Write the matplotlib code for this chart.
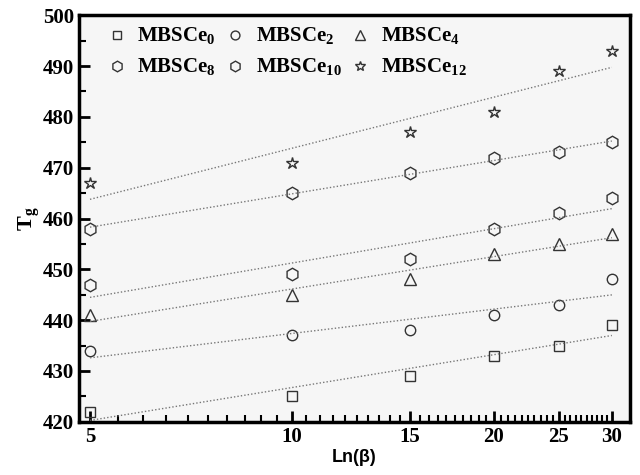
import matplotlib
matplotlib.use("Agg")
import matplotlib.pyplot as plt
import numpy as np
from matplotlib.ticker import FixedLocator, NullFormatter

beta = [5, 10, 15, 20, 25, 30]
tg_ce0 = [422, 425, 429, 433, 435, 439]
tg_ce2 = [434, 437, 438, 441, 443, 448]
tg_ce4 = [441, 445, 448, 453, 455, 457]
tg_ce8 = [447, 449, 452, 458, 461, 464]
tg_ce10 = [458, 465, 469, 472, 473, 475]
tg_ce12 = [467, 471, 477, 481, 489, 493]

series = [
    (r"MBSCe$_\mathbf{0}$", tg_ce0, "s", 7),
    (r"MBSCe$_\mathbf{2}$", tg_ce2, "o", 7.5),
    (r"MBSCe$_\mathbf{4}$", tg_ce4, "^", 8),
    (r"MBSCe$_\mathbf{8}$", tg_ce8, "h", 9),
    (r"MBSCe$_\mathbf{10}$", tg_ce10, "h", 9),
    (r"MBSCe$_\mathbf{12}$", tg_ce12, "*", 9),
]

plt.rcParams["font.family"] = ["Liberation Serif", "DejaVu Serif"]
plt.rcParams["mathtext.fontset"] = "custom"
plt.rcParams["mathtext.bf"] = "Liberation Serif:bold"
plt.rcParams["mathtext.rm"] = "Liberation Serif:bold"

fig = plt.figure(figsize=(6.4, 4.75), dpi=100)
ax = fig.add_axes([0.123, 0.112, 0.861, 0.856])
ax.set_facecolor("#f6f6f6")

x = np.array(beta, dtype=float)
handles = []
for label, y, m, ms in series:
    h, = ax.plot(x, y, linestyle="none", marker=m, markersize=ms,
                 markerfacecolor="none", markeredgecolor="#333333",
                 markeredgewidth=1.0, label=label)
    handles.append(h)
    coef = np.polyfit(np.log(x), y, 1)
    ax.plot(x, np.polyval(coef, np.log(x)), linestyle=(0, (1, 1.5)),
            color="#777777", linewidth=1.0)

ax.set_xscale("log")
ax.set_xlim(4.81, 31.9)
ax.set_ylim(420, 500)
ax.xaxis.set_major_locator(FixedLocator(beta))
ax.set_xticklabels([str(b) for b in beta])
ax.xaxis.set_minor_locator(FixedLocator(np.arange(5, 30.01, 0.5)))
ax.xaxis.set_minor_formatter(NullFormatter())
ax.set_yticks(np.arange(420, 501, 10))
ax.set_yticks(np.arange(425, 500, 10), minor=True)

for lbl in ax.get_xticklabels() + ax.get_yticklabels():
    lbl.set_fontweight("bold")
    lbl.set_fontsize(15)

ax.tick_params(which="major", direction="in", length=8, width=2, top=False, right=False)
ax.tick_params(which="minor", direction="in", length=5, width=1.5, top=False, right=False)
for s in ax.spines.values():
    s.set_linewidth(2.5)

ax.set_xlabel("Ln(β)", fontsize=13, fontweight="bold", family="Liberation Sans", labelpad=2)
ax.set_ylabel(r"T$_\mathbf{g}$", fontsize=16, fontweight="bold", labelpad=0)

order = [0, 3, 1, 4, 2, 5]
leg = ax.legend([handles[i] for i in order], [series[i][0] for i in order],
                ncol=3, loc="upper left", bbox_to_anchor=(0.012, 1.02),
                frameon=False, prop={"weight": "bold", "size": 15},
                handletextpad=0.4, columnspacing=0.3, handlelength=1.2,
                labelspacing=0.45, markerscale=0.85)

fig.savefig("out.png", dpi=100)
